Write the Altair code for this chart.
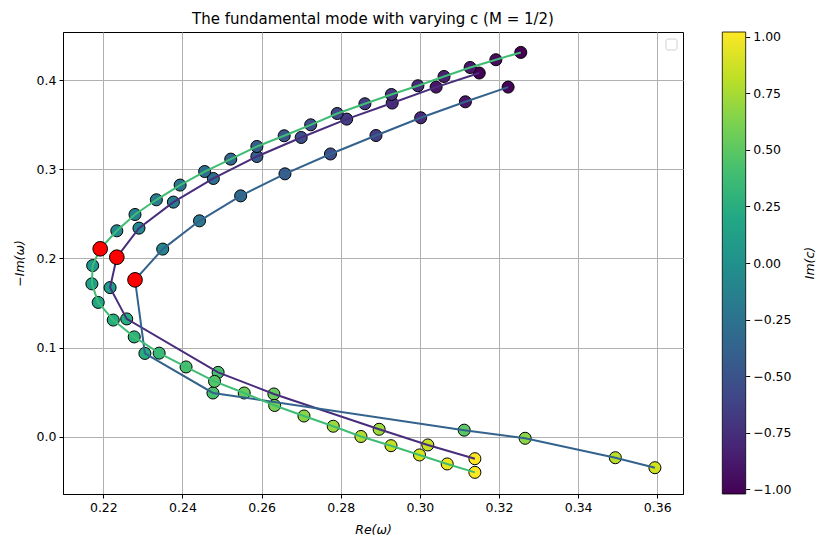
import altair as alt
import pandas as pd

# ---- data ----
curve_names = ["A", "B", "C"]
line_colors = ["#472d7b", "#33638d", "#3fbc73"]

# curve A (purple line)
a_re = [0.3150, 0.3041, 0.2930, 0.2815, 0.2700, 0.2588, 0.2478, 0.2377, 0.2290,
        0.2234, 0.2217, 0.2259, 0.2490, 0.2631, 0.2897, 0.3020, 0.3139]
a_negim = [0.4079, 0.3921, 0.3742, 0.3562, 0.3356, 0.3143, 0.2896, 0.2631, 0.2339,
           0.2013, 0.1672, 0.1321, 0.0721, 0.0479, 0.0083, -0.0093, -0.0247]
a_imc = [-1.02, -0.90, -0.78, -0.66, -0.54, -0.42, -0.30, -0.18, -0.06,
         0.00, 0.12, 0.24, 0.42, 0.54, 0.72, 0.84, 1.02]

# curve B (blue line)
b_re = [0.3223, 0.3115, 0.3002, 0.2889, 0.2774, 0.2659, 0.2547, 0.2443, 0.2350,
        0.2280, 0.2305, 0.2477, 0.3112, 0.3266, 0.3494, 0.3594]
b_negim = [0.3921, 0.3756, 0.3577, 0.3378, 0.3171, 0.2948, 0.2701, 0.2421, 0.2104,
           0.1759, 0.0934, 0.0490, 0.0073, -0.0018, -0.0236, -0.0348]
b_imc = [-1.00, -0.90, -0.78, -0.66, -0.54, -0.43, -0.32, -0.20, -0.10,
         0.00, 0.25, 0.42, 0.50, 0.66, 0.80, 0.88]

# curve C (green line)
c_re = [0.3255, 0.3192, 0.3127, 0.3061, 0.2995, 0.2928, 0.2861, 0.2791, 0.2724,
        0.2657, 0.2588, 0.2522, 0.2456, 0.2394, 0.2334, 0.2280, 0.2234, 0.2192,
        0.2173, 0.2171, 0.2187, 0.2225, 0.2278, 0.2341, 0.2409, 0.2481, 0.2556,
        0.2633, 0.2707, 0.2781, 0.2851, 0.2927, 0.2999, 0.3069, 0.3139]
c_negim = [0.4310, 0.4228, 0.4141, 0.4040, 0.3936, 0.3838, 0.3734, 0.3625, 0.3498,
           0.3375, 0.3255, 0.3113, 0.2974, 0.2822, 0.2657, 0.2492, 0.2309, 0.2107,
           0.1919, 0.1714, 0.1506, 0.1308, 0.1119, 0.0937, 0.0782, 0.0620, 0.0490,
           0.0350, 0.0232, 0.0117, 0.0002, -0.0101, -0.0205, -0.0306, -0.0400]
c_imc = [-1.02, -0.96, -0.90, -0.84, -0.78, -0.72, -0.66, -0.60, -0.54,
         -0.48, -0.42, -0.36, -0.30, -0.24, -0.18, -0.12, -0.06, 0.00,
         0.06, 0.12, 0.18, 0.24, 0.30, 0.36, 0.42, 0.48, 0.54,
         0.60, 0.66, 0.72, 0.78, 0.84, 0.90, 0.96, 1.02]

x_ticks = [0.22, 0.24, 0.26, 0.28, 0.30, 0.32, 0.34, 0.36]
y_ticks = [0.0, 0.1, 0.2, 0.3, 0.4]
cbar_ticks = [-1.0, -0.75, -0.5, -0.25, 0.0, 0.25, 0.5, 0.75, 1.0]
cbar_range = [-1.02, 1.02]
viridis_stops = ["#440154", "#482475", "#414487", "#355f8d", "#2a788e", "#21918c",
                 "#22a884", "#44bf70", "#7ad151", "#bddf26", "#fde725"]

rows = []
for name, re_, ni, ic in [("A", a_re, a_negim, a_imc),
                          ("B", b_re, b_negim, b_imc),
                          ("C", c_re, c_negim, c_imc)]:
    for k, (r, n, c) in enumerate(zip(re_, ni, ic)):
        rows.append({"curve": name, "k": k, "re": r, "negim": n, "imc": c})
df = pd.DataFrame(rows)

FONT = "DejaVu Sans"

xenc = alt.X("re:Q",
             scale=alt.Scale(domain=[0.2098, 0.3665], nice=False, zero=False),
             axis=alt.Axis(values=x_ticks, format=".2f", title="Re(ω)",
                           titleFontStyle="italic", grid=True, titlePadding=10))
yenc = alt.Y("negim:Q",
             scale=alt.Scale(domain=[-0.0643, 0.4539], nice=False, zero=False),
             axis=alt.Axis(values=y_ticks, format=".1f", title="−Im(ω)",
                           titleFontStyle="italic", grid=True, orient="left",
                           titlePadding=10))

base = alt.Chart(df)

points = base.mark_circle(size=145, opacity=1, stroke="black", strokeWidth=1).encode(
    x=xenc, y=yenc,
    color=alt.Color("imc:Q", scale=alt.Scale(scheme="viridis", domain=cbar_range),
                    legend=None),
)

lines = base.mark_line(strokeWidth=2).encode(
    x=xenc, y=yenc,
    stroke=alt.Stroke("curve:N", scale=alt.Scale(domain=curve_names, range=line_colors),
                      legend=None),
    order="k:Q",
)

red = base.transform_filter("datum.imc == 0").mark_circle(
    size=215, opacity=1, color="red", stroke="black", strokeWidth=1
).encode(x=xenc, y=yenc)

box_df = pd.DataFrame({"v": [0]})
empty_legend = alt.Chart(box_df).mark_rect(
    fill="white", stroke="#d0d0d0", strokeWidth=1, cornerRadius=2
).encode(x=alt.value(603), x2=alt.value(614), y=alt.value(7), y2=alt.value(18))

main = alt.layer(points, lines, red, empty_legend)

cb_df = pd.DataFrame({"lo": [cbar_range[0]], "hi": [cbar_range[1]], "label": ["Im(c)"]})
grad = alt.LinearGradient(
    gradient="linear",
    stops=[alt.GradientStop(offset=i / (len(viridis_stops) - 1), color=c)
           for i, c in enumerate(viridis_stops)],
    x1=0, x2=0, y1=1, y2=0,
)
colorbar = alt.Chart(cb_df).mark_rect(fill=grad, stroke="black", strokeWidth=0.8).encode(
    x=alt.value(659.3), x2=alt.value(682.7),
    y=alt.Y("lo:Q", scale=alt.Scale(domain=cbar_range, nice=False, zero=False),
            axis=alt.Axis(orient="right", offset=62.7, values=cbar_ticks, format=".2f",
                          grid=False, domain=False, title=None)),
    y2="hi:Q",
)
cb_title = alt.Chart(cb_df).mark_text(
    font=FONT, fontSize=12.5, fontStyle="italic", angle=270, align="center",
    baseline="middle", color="black"
).encode(x=alt.value(747), y=alt.value(231), text="label:N")

chart = alt.layer(main, colorbar, cb_title).resolve_scale(
    y="independent", color="independent", stroke="independent"
).properties(
    width=620, height=462,
    padding={"left": 55, "top": 24, "right": 138, "bottom": 47},
    autosize=alt.AutoSizeParams(type="none"),
    title=alt.TitleParams("The fundamental mode with varying c (M = 1/2)", font=FONT,
                          fontSize=15, fontWeight="normal", anchor="middle",
                          offset=4, color="black"),
).configure_axis(
    labelFont=FONT, labelFontSize=12.5, labelColor="black",
    titleFont=FONT, titleFontSize=12.5, titleFontWeight="normal", titleColor="black",
    tickColor="black", tickSize=4, domainColor="black", domainWidth=1,
    gridColor="#b0b0b0", gridWidth=1, labelPadding=3,
).configure_view(stroke="black", strokeWidth=1)

chart.save("out.html", embed_options={"renderer": "svg", "actions": False})
